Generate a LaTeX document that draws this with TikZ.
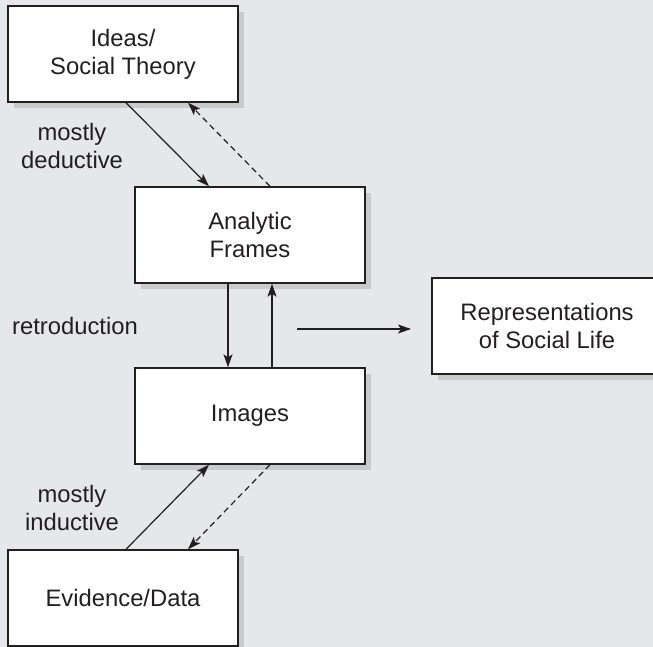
\documentclass[tikz,border=0pt]{standalone}
\usepackage{fontspec}
\setmainfont{Liberation Sans}
\usetikzlibrary{arrows.meta,shadows}
\definecolor{pagegray}{HTML}{E6E7E8}
\definecolor{shadowgray}{HTML}{C9CACC}
\definecolor{inkgray}{HTML}{231F20}

\begin{document}
\begin{tikzpicture}[x=1pt,y=-1pt,
  box/.style={draw=inkgray,line width=1.4pt,fill=white,minimum width=230pt,
    minimum height=96pt,inner sep=0pt,align=center,text=inkgray,
    drop shadow={shadow xshift=6pt,shadow yshift=-6pt,fill=shadowgray,opacity=1}},
  lbl/.style={align=center,text=inkgray},
  link/.style={draw=inkgray,line width=1.2pt,-{Stealth[length=13pt,width=9pt,inset=3pt]}},
  back/.style={link,dash pattern=on 6pt off 4pt},
  font=\fontsize{23.8}{28}\selectfont]
\clip (0,0) rectangle (653,647);
\fill[pagegray] (0,0) rectangle (653,647);

\node[box] (ideas) at (123,54) {Ideas/\\Social Theory};
\node[box] (frames) at (250,235) {Analytic\\Frames};
\node[box] (images) at (250,416) {Images};
\node[box] (evidence) at (123,598) {Evidence/Data};
\node[box] (repr) at (547,326) {Representations\\of Social Life};

\node[lbl] (deduct) at (72,146) {mostly\\deductive};
\node[lbl] (retro) at (75,326) {retroduction};
\node[lbl] (induct) at (72,508) {mostly\\inductive};

\coordinate (hstart) at (297,329);
\coordinate (hend) at (411,329);

\draw[link] ([xshift=3pt]ideas.south) -- ([xshift=-41pt]frames.north);
\draw[back] ([xshift=20pt]frames.north) -- ([xshift=65pt]ideas.south);
\draw[link] ([xshift=-22pt]frames.south) -- ([xshift=-22pt]images.north);
\draw[link] ([xshift=22pt]images.north) -- ([xshift=22pt]frames.south);
\draw[link] (hstart) -- (hend);
\draw[link] ([xshift=3pt]evidence.north) -- ([xshift=-41pt]images.south);
\draw[back] ([xshift=20pt]images.south) -- ([xshift=65pt]evidence.north);
\end{tikzpicture}
\end{document}
